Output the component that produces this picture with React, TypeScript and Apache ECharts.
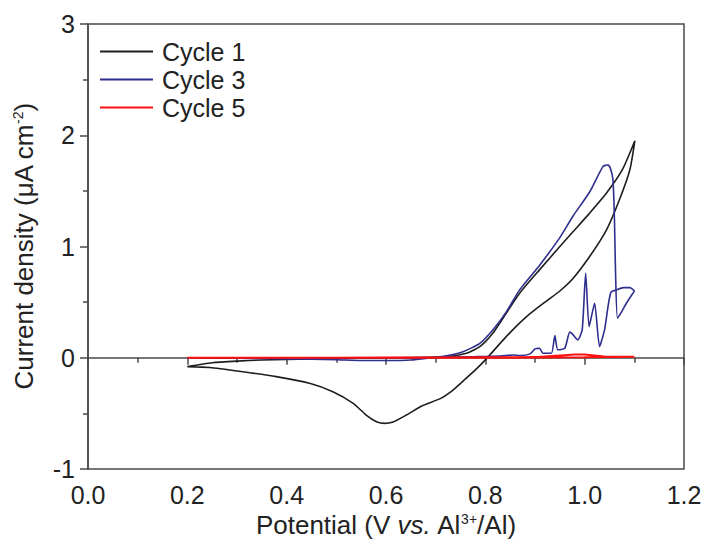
import React, { useEffect, useRef } from "react";
import * as echarts from "echarts";

const seriesNames = ["Cycle 1", "Cycle 3", "Cycle 5"];
const seriesColors = ["#1e1e1e", "#2e2e8e", "#ff1010"];

const xTicks = [0.0, 0.2, 0.4, 0.6, 0.8, 1.0, 1.2];
const yTicks = [-1, 0, 1, 2, 3];

// Cycle 1: forward scan from 0.2 V, then reverse back to 0.2 V
const cycle1: [number, number][] = [
  [0.2, -0.08], [0.245, -0.087], [0.312, -0.126], [0.379, -0.17], [0.446, -0.23],
  [0.493, -0.306], [0.534, -0.41], [0.56, -0.515], [0.581, -0.575], [0.597, -0.59],
  [0.614, -0.578], [0.641, -0.515], [0.674, -0.43], [0.708, -0.37], [0.735, -0.29],
  [0.76, -0.19], [0.782, -0.1], [0.802, -0.01], [0.842, 0.19], [0.883, 0.37],
  [0.923, 0.51], [0.95, 0.6], [0.976, 0.71], [1.01, 0.91], [1.044, 1.15],
  [1.07, 1.42], [1.091, 1.69], [1.101, 1.95],
  [1.077, 1.7], [1.044, 1.48], [1.01, 1.3], [0.976, 1.13], [0.95, 1.0],
  [0.909, 0.79], [0.869, 0.58], [0.842, 0.4], [0.815, 0.22], [0.789, 0.1],
  [0.762, 0.04], [0.722, 0.01], [0.65, 0.0], [0.55, -0.005], [0.45, -0.01],
  [0.35, -0.02], [0.3, -0.03], [0.25, -0.045], [0.2, -0.08],
];

const cycle3: [number, number][] = [
  [0.2, 0.0], [0.3, 0.0], [0.4, 0.0], [0.5, 0.0], [0.6, 0.0], [0.7, 0.005],
  [0.78, 0.01], [0.83, 0.015], [0.856, 0.025], [0.87, 0.02], [0.89, 0.035],
  [0.9, 0.08], [0.909, 0.085], [0.916, 0.04], [0.933, 0.04], [0.94, 0.2],
  [0.946, 0.07], [0.96, 0.085], [0.97, 0.23], [0.976, 0.21], [0.986, 0.16],
  [0.995, 0.25], [1.002, 0.76], [1.009, 0.28], [1.02, 0.49], [1.03, 0.1],
  [1.04, 0.25], [1.047, 0.46], [1.053, 0.59], [1.064, 0.61], [1.078, 0.63],
  [1.091, 0.63], [1.1, 0.6],
  [1.094, 0.56], [1.084, 0.49], [1.074, 0.41], [1.066, 0.355], [1.062, 0.8],
  [1.06, 1.24], [1.057, 1.6], [1.052, 1.7], [1.047, 1.733], [1.037, 1.72],
  [1.01, 1.49], [0.976, 1.27], [0.95, 1.08], [0.909, 0.83], [0.869, 0.61],
  [0.842, 0.41], [0.815, 0.25], [0.789, 0.13], [0.755, 0.054], [0.722, 0.018],
  [0.69, 0.0], [0.65, -0.02], [0.6, -0.025], [0.55, -0.025], [0.5, -0.018],
  [0.4, -0.01], [0.3, -0.005], [0.2, 0.0],
];

const cycle5: [number, number][] = [
  [0.2, 0.0], [0.4, 0.0], [0.6, 0.002], [0.8, 0.004], [0.9, 0.006], [0.95, 0.02],
  [0.98, 0.03], [1.0, 0.03], [1.02, 0.02], [1.04, 0.01], [1.1, 0.01],
  [1.0, 0.004], [0.8, 0.0], [0.6, 0.0], [0.4, 0.0], [0.2, 0.0],
];

const FONT = "'Liberation Sans', Arial, Helvetica, sans-serif";
const TXT = "#222";
const AX = "#4a4a4a";

export default function App() {
  const ref = useRef<HTMLDivElement>(null);
  useEffect(() => {
    if (!ref.current) return;
    const chart = echarts.init(ref.current, undefined, { renderer: "svg" });
    const datasets = [cycle1, cycle3, cycle5];
    chart.setOption({
      animation: false,
      backgroundColor: "#fff",
      grid: {
        left: 88, right: 26, top: 24, bottom: 82,
        show: true, borderColor: AX, borderWidth: 1.5,
      },
      legend: {
        orient: "vertical",
        left: 100,
        top: 39,
        padding: 0,
        itemWidth: 53,
        itemHeight: 2,
        itemGap: 3,
        icon: "rect",
        data: seriesNames,
        textStyle: { fontFamily: FONT, fontSize: 25, color: TXT, padding: [0, 0, 0, 4] },
      },
      xAxis: {
        type: "value",
        min: xTicks[0],
        max: xTicks[xTicks.length - 1],
        interval: 0.2,
        axisLine: { show: true, lineStyle: { color: AX, width: 1.5 } },
        axisTick: { show: true, length: 7, lineStyle: { color: AX, width: 1.5 } },
        minorTick: { show: true, splitNumber: 2, length: 5, lineStyle: { color: AX, width: 1.5 } },
        splitLine: { show: false },
        axisLabel: {
          fontFamily: FONT, fontSize: 25, color: TXT, margin: 13,
          formatter: (v: number) => v.toFixed(1),
        },
        name: "Potential (V {i|vs.} Al{sup|3+}/Al)",
        nameLocation: "middle",
        nameGap: 39,
        nameTextStyle: {
          fontFamily: FONT, fontSize: 26, color: TXT,
          rich: {
            i: { fontFamily: FONT, fontSize: 26, color: TXT, fontStyle: "italic" },
            sup: { fontFamily: FONT, fontSize: 14, color: TXT, verticalAlign: "top", padding: [0, 0, 12, 0] },
          },
        },
      },
      yAxis: {
        type: "value",
        min: yTicks[0],
        max: yTicks[yTicks.length - 1],
        interval: 1,
        axisLine: { show: true, lineStyle: { color: AX, width: 1.5 } },
        axisTick: { show: true, length: 8, lineStyle: { color: AX, width: 1.5 } },
        minorTick: { show: true, splitNumber: 2, length: 5, lineStyle: { color: AX, width: 1.5 } },
        splitLine: { show: false },
        axisLabel: { fontFamily: FONT, fontSize: 25, color: TXT, margin: 13 },
        name: "Current density (μA cm{sup|-2})",
        nameLocation: "middle",
        nameRotate: 90,
        nameGap: 51,
        nameTextStyle: {
          fontFamily: FONT, fontSize: 26, color: TXT,
          rich: {
            sup: { fontFamily: FONT, fontSize: 14, color: TXT, verticalAlign: "top", padding: [0, 0, 12, 0] },
          },
        },
      },
      series: seriesNames.map((n, i) => ({
        name: n,
        type: "line",
        data: datasets[i],
        symbol: "none",
        smooth: 0.2,
        lineStyle: { color: seriesColors[i], width: i === 2 ? 2 : 1.6 },
        itemStyle: { color: seriesColors[i] },
        z: i === 2 ? 3 : i === 1 ? 2 : 1,
      })),
    });
    return () => chart.dispose();
  }, []);
  return (
    <div
      ref={ref}
      style={{ position: "fixed", left: 0, top: 0, width: 710, height: 551 }}
    />
  );
}
